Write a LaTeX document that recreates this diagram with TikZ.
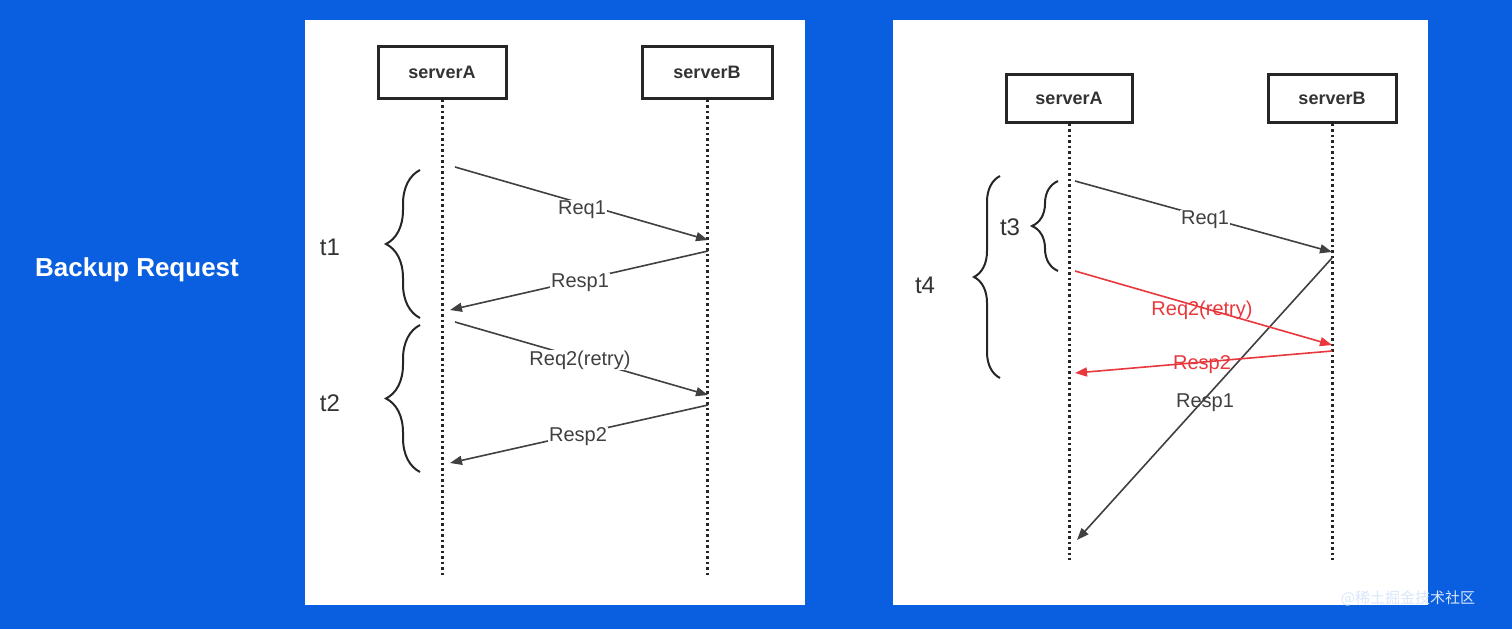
\documentclass[tikz,border=0pt]{standalone}
\usepackage{fontspec}
\setmainfont{Liberation Sans}
\newfontfamily\cjk{Noto Sans CJK SC}
\usetikzlibrary{arrows.meta,decorations.pathreplacing}
\definecolor{bg}{HTML}{0A5FE0}
\definecolor{rd}{HTML}{E8383D}
\begin{document}
\begin{tikzpicture}[x=1pt,y=-1pt,
  srv/.style={draw=black!85,line width=3pt,minimum width=#1,minimum height=52pt,font=\fontsize{18}{20}\selectfont\bfseries,text=black!80,inner sep=0pt},
  life/.style={line width=3pt,dash pattern=on 2.5pt off 3pt,black!85},
  msg/.style={line width=1.6pt,black!75,-{Triangle[length=12pt,width=9pt]}},
  rmsg/.style={line width=1.6pt,rd,-{Triangle[length=12pt,width=9pt]}},
  lbl/.style={font=\fontsize{20}{22}\selectfont,fill=white,inner sep=1pt,text=black!75},
  rlbl/.style={font=\fontsize{20}{22}\selectfont,fill=white,inner sep=1pt,text=rd},
  br/.style={decorate,decoration={brace,amplitude=#1},line width=2pt,black!85},
  tl/.style={font=\fontsize{24}{26}\selectfont,text=black!80}]
\fill[bg] (0,0) rectangle (1512,629);
\useasboundingbox (0,0) rectangle (1512,629);
\fill[white] (305,20) rectangle (805,605);
\fill[white] (893,20) rectangle (1428,605);
\node[font=\fontsize{26}{28}\selectfont\bfseries,text=white] (title) at (137,270) {Backup Request};
\node[font=\fontsize{15}{17}\selectfont\cjk,text=white!85!bg] (wm) at (1408,598) {@稀土掘金技术社区};
% left
\node[srv=128pt] (a1) at (442,72) {serverA};
\node[srv=130pt] (b1) at (707,72) {serverB};
\coordinate (a1e) at (442,575); \coordinate (b1e) at (707,575);
\draw[life] (a1.south) -- (a1e);
\draw[life] (b1.south) -- (b1e);
\coordinate (p1) at (455,167); \coordinate (p2) at (708,240);
\coordinate (p3) at (708,251); \coordinate (p4) at (450,310);
\coordinate (p5) at (455,322); \coordinate (p6) at (708,395);
\coordinate (p7) at (708,405); \coordinate (p8) at (450,463);
\draw[msg] (p1) -- (p2);
\node[lbl] (l1) at (582,210) {Req1};
\draw[msg] (p3) -- (p4);
\node[lbl] (l2) at (580,283) {Resp1};
\draw[msg] (p5) -- (p6);
\node[lbl] (l3) at (580,360) {Req2(retry)};
\draw[msg] (p7) -- (p8);
\node[lbl] (l4) at (578,437) {Resp2};
\draw[br=34pt] (420,318) -- (420,170);
\draw[br=34pt] (420,472) -- (420,325);
\node[tl] (t1) at (330,247) {t1};
\node[tl] (t2) at (330,403) {t2};
% right
\node[srv=126pt,minimum height=48pt] (a2) at (1069,98) {serverA};
\node[srv=128pt,minimum height=48pt] (b2) at (1332,98) {serverB};
\coordinate (a2e) at (1069,560); \coordinate (b2e) at (1332,560);
\draw[life] (a2.south) -- (a2e);
\draw[life] (b2.south) -- (b2e);
\coordinate (q1) at (1075,181); \coordinate (q2) at (1332,252);
\coordinate (q3) at (1075,271); \coordinate (q4) at (1332,345);
\coordinate (q5) at (1332,351); \coordinate (q6) at (1075,373);
\coordinate (q7) at (1332,258); \coordinate (q8) at (1077,540);
\draw[msg] (q7) -- (q8);
\node[lbl,fill=none] (m4) at (1205,403) {Resp1};
\draw[msg] (q1) -- (q2);
\node[lbl] (m1) at (1205,220) {Req1};
\draw[rmsg] (q3) -- (q4);
\node[rlbl,fill=none] (m2) at (1202,310) {Req2(retry)};
\draw[rmsg] (q5) -- (q6);
\node[rlbl,fill=none] (m3) at (1202,365) {Resp2};
\draw[br=26pt] (1058,271) -- (1058,181);
\draw[br=26pt] (1000,378) -- (1000,176);
\node[tl] (t3) at (1010,227) {t3};
\node[tl] (t4) at (925,285) {t4};
\end{tikzpicture}
\end{document}
